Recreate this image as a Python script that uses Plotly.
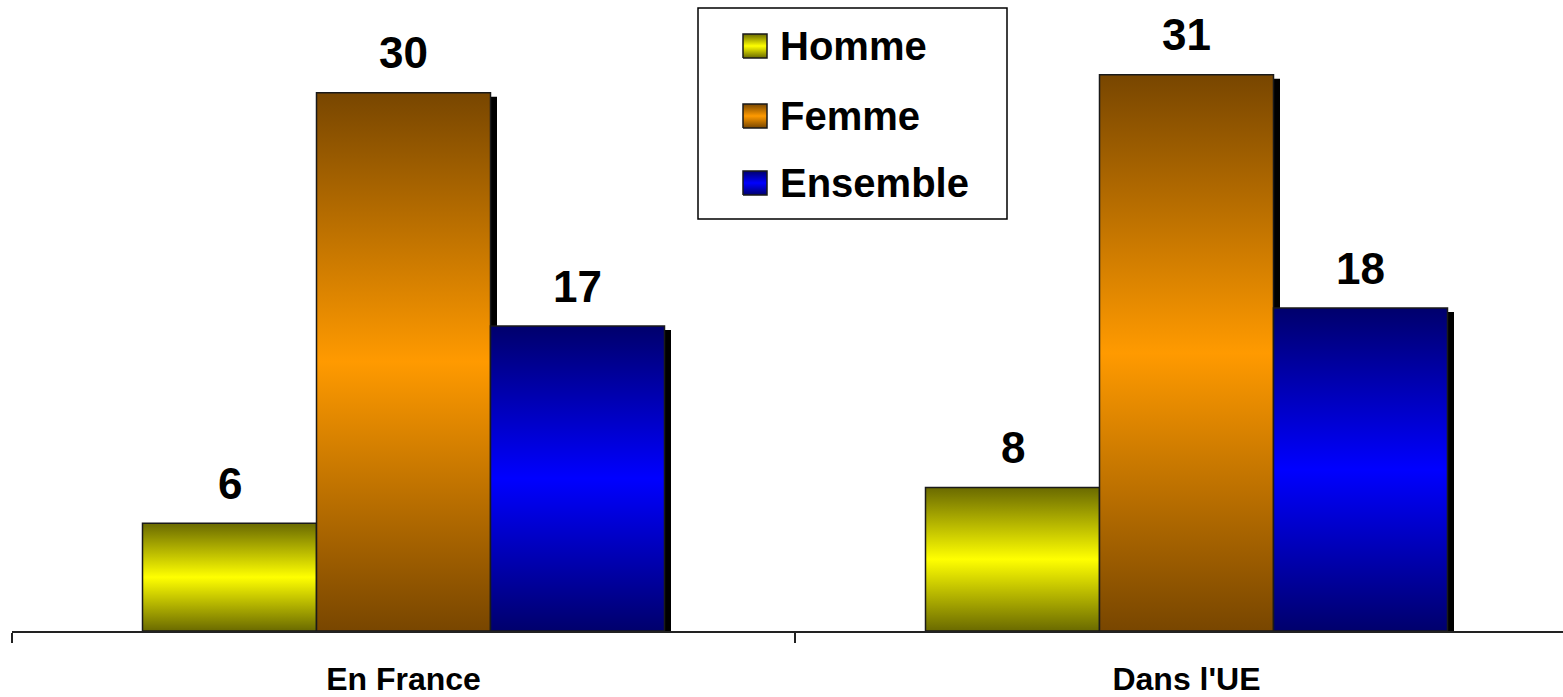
import plotly.graph_objects as go

# ---- data ----
categories = ["En France", "Dans l'UE"]
series_names = ["Homme", "Femme", "Ensemble"]
homme = [6, 8]
femme = [30, 31]
ensemble = [17, 18]
series_values = [homme, femme, ensemble]

# vertical gradients: dark edge -> bright middle -> dark edge
gradients = [
    [[0, "#6a6a00"], [0.5, "#ffff00"], [1, "#6a6a00"]],
    [[0, "#784600"], [0.5, "#ff9a00"], [1, "#784600"]],
    [[0, "#00006c"], [0.5, "#0000ff"], [1, "#00006c"]],
]

# ---- geometry of the canvas ----
W, H = 1563, 697
ML, MB = 12, 66
plot_w = W - ML
plot_h = H - MB
cat_px = 783.0          # pixels per category slot
unit_px = 17.94         # pixels per value unit
x_range = [-0.5, -0.5 + plot_w / cat_px]
y_range = [0, plot_h / unit_px]
bar_w = 1 / 4.5         # three bars + 150% gap per category

# shadow offset (in pixels) converted to data units
shadow_dx = 6.5 / cat_px
shadow_dy = 4.0 / unit_px

font = "Liberation Sans, Arial, sans-serif"


def px_x(px):
    return x_range[0] + (px - ML) / cat_px


def px_y(py):
    return (plot_h - py) / unit_px


def rect(x0, x1, y0, y1):
    return [x0, x1, x1, x0, x0], [y0, y0, y1, y1, y0]


fig = go.Figure()

# drop shadows behind the bars
for s, vals in enumerate(series_values):
    for c, v in enumerate(vals):
        x0 = c + (s - 1) * bar_w - bar_w / 2
        xs, ys = rect(x0 + shadow_dx, x0 + bar_w + shadow_dx, 0, v - shadow_dy)
        fig.add_trace(go.Scatter(
            x=xs, y=ys, mode="lines", fill="toself",
            fillcolor="black", line=dict(width=0),
            showlegend=False, hoverinfo="skip"))

# gradient bars
for s, (name, vals) in enumerate(zip(series_names, series_values)):
    for c, v in enumerate(vals):
        x0 = c + (s - 1) * bar_w - bar_w / 2
        xs, ys = rect(x0, x0 + bar_w, 0, v)
        fig.add_trace(go.Scatter(
            x=xs, y=ys, mode="lines", fill="toself",
            fillgradient=dict(type="vertical", colorscale=gradients[s]),
            line=dict(color="#1a1a1a", width=1.5),
            name=name, showlegend=False,
            hovertemplate=f"{name} - {categories[c]}: {v}<extra></extra>"))

# value labels
annotations = []
for s, vals in enumerate(series_values):
    for c, v in enumerate(vals):
        xc = c + (s - 1) * bar_w
        annotations.append(dict(
            x=xc, y=v, xref="x", yref="y", text=str(v), showarrow=False,
            yanchor="middle", yshift=40,
            font=dict(family=font, size=44, color="black", weight="bold")))

# legend: framed box with gradient swatches and labels
legend_rows_py = [46, 116, 183]
sw = 24  # swatch size in pixels
for s, (name, py) in enumerate(zip(series_names, legend_rows_py)):
    xs, ys = rect(px_x(743), px_x(743 + sw), px_y(py + sw / 2), px_y(py - sw / 2))
    fig.add_trace(go.Scatter(
        x=xs, y=ys, mode="lines", fill="toself",
        fillgradient=dict(type="vertical", colorscale=gradients[s]),
        line=dict(color="#1a1a1a", width=1.5),
        showlegend=False, hoverinfo="skip"))
    annotations.append(dict(
        x=(778 - ML) / plot_w, y=(plot_h - py) / plot_h, xref="paper", yref="paper",
        text=name, showarrow=False, xanchor="left", yanchor="middle",
        font=dict(family=font, size=40, color="black", weight="bold")))

shapes = [dict(
    type="rect", xref="paper", yref="paper",
    x0=(698 - ML) / plot_w, x1=(1007 - ML) / plot_w,
    y0=(plot_h - 219) / plot_h, y1=(plot_h - 8) / plot_h,
    line=dict(color="black", width=1.5), fillcolor="rgba(0,0,0,0)", layer="below")]

fig.update_layout(
    width=W, height=H,
    margin=dict(l=ML, r=0, t=0, b=MB),
    paper_bgcolor="white", plot_bgcolor="white",
    showlegend=False,
    annotations=annotations,
    shapes=shapes,
    xaxis=dict(
        range=x_range, showgrid=False, zeroline=False, automargin=False,
        tickmode="array", tickvals=list(range(len(categories))), ticktext=categories,
        ticks="", ticklabelstandoff=19,
        tickfont=dict(family=font, size=32, color="black", weight="bold"),
        showline=True, linecolor="#222222", linewidth=2,
        minor=dict(tickmode="array", tickvals=[-0.5, 0.5, 1.5], ticks="outside",
                   ticklen=10, tickwidth=2, tickcolor="#222222"),
        fixedrange=True),
    yaxis=dict(range=y_range, visible=False, showgrid=False, zeroline=False,
               automargin=False, fixedrange=True),
)

fig.write_html("out.html")
